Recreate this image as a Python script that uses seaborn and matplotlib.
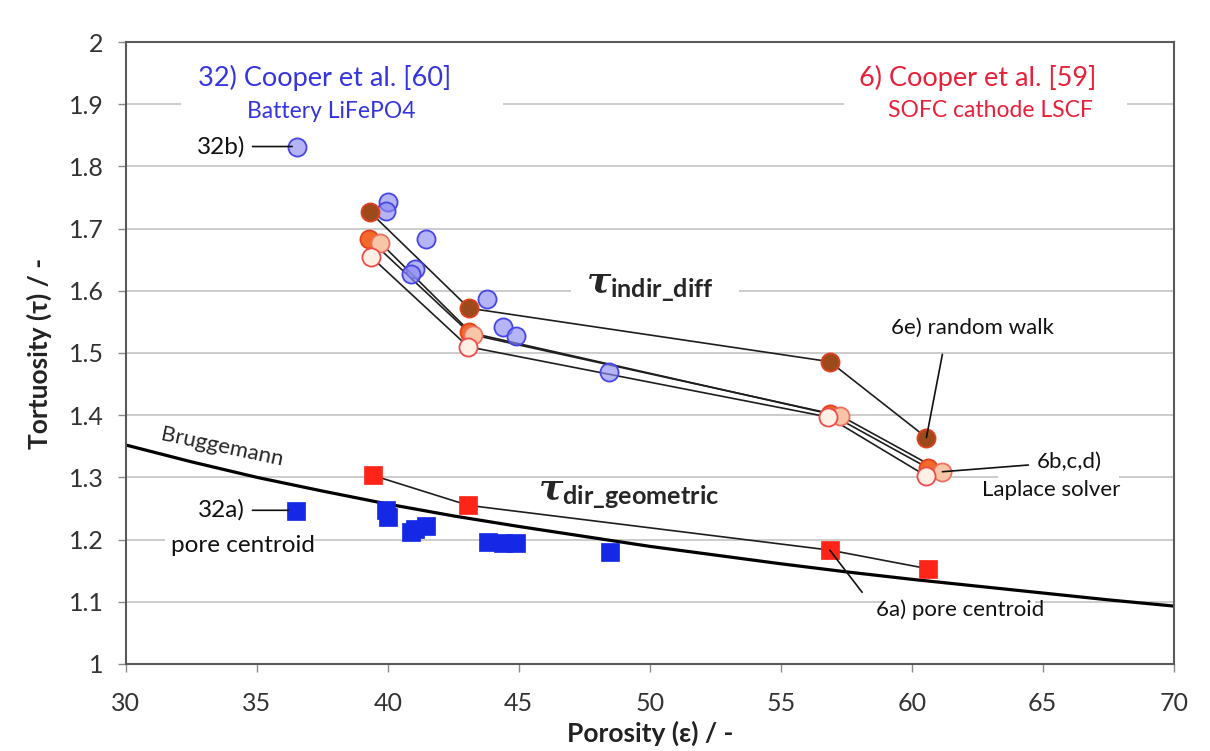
import numpy as np
import pandas as pd
import seaborn as sns
import matplotlib.pyplot as plt
from matplotlib.patches import Rectangle

# ---------------- data ----------------
x_ticks = [30, 35, 40, 45, 50, 55, 60, 65, 70]
y_ticks = [1.0, 1.1, 1.2, 1.3, 1.4, 1.5, 1.6, 1.7, 1.8, 1.9, 2.0]
y_tick_labels = ["1", "1.1", "1.2", "1.3", "1.4", "1.5", "1.6", "1.7", "1.8", "1.9", "2"]

# 32) Cooper et al. [60] - battery LiFePO4
bat_eps_indir = [36.53, 40.01, 39.92, 41.44, 41.03, 40.88, 43.80, 44.40, 44.91, 48.45]
bat_tau_indir = [1.832, 1.743, 1.729, 1.683, 1.635, 1.627, 1.587, 1.542, 1.527, 1.469]
bat_eps_dir = [36.50, 39.92, 40.01, 40.88, 41.03, 41.44, 43.83, 44.40, 44.91, 48.47]
bat_tau_dir = [1.246, 1.247, 1.236, 1.212, 1.217, 1.222, 1.196, 1.195, 1.194, 1.180]

# 6) Cooper et al. [59] - SOFC cathode LSCF
sofc_eps_6e = [39.31, 43.10, 56.87, 60.56]
sofc_tau_6e = [1.727, 1.572, 1.486, 1.364]
sofc_eps_6b = [39.29, 43.10, 56.87, 60.62]
sofc_tau_6b = [1.683, 1.533, 1.402, 1.315]
sofc_eps_6c = [39.72, 43.26, 57.28, 61.17]
sofc_tau_6c = [1.677, 1.529, 1.399, 1.309]
sofc_eps_6d = [39.35, 43.07, 56.81, 60.56]
sofc_tau_6d = [1.655, 1.510, 1.397, 1.302]
sofc_eps_6a = [39.44, 43.07, 56.87, 60.62]
sofc_tau_6a = [1.303, 1.255, 1.183, 1.153]

# Bruggemann curve
brug_eps = [30, 32.5, 35, 37.5, 40, 42.5, 45, 47.5, 50, 52.5, 55, 57.5, 60, 62.5, 65, 67.5, 70]
brug_tau = [1.352, 1.325, 1.300, 1.278, 1.257, 1.238, 1.221, 1.205, 1.189, 1.175,
            1.161, 1.148, 1.136, 1.125, 1.114, 1.103, 1.093]

# ---------------- styling ----------------
sns.set_theme(style="white")
plt.rcParams["font.family"] = ["Lato", "DejaVu Sans"]
plt.rcParams["mathtext.fontset"] = "custom"
plt.rcParams["mathtext.rm"] = "Lato"
plt.rcParams["mathtext.bf"] = "Lato:bold"
plt.rcParams["mathtext.it"] = "DejaVu Serif:italic:bold"
plt.rcParams["mathtext.fallback"] = "cm"

BLUE_TXT = "#3535e0"
RED_TXT = "#e8203a"

fig = plt.figure(figsize=(12.1, 7.51), dpi=100)
ax = fig.add_axes([0.104, 0.116, 0.866, 0.828])

ax.set_xlim(30, 70)
ax.set_ylim(1, 2)
ax.set_xticks(x_ticks)
ax.set_xticklabels([str(t) for t in x_ticks])
ax.set_yticks(y_ticks)
ax.set_yticklabels(y_tick_labels)
ax.tick_params(axis="both", which="both", direction="out", length=6, width=1,
               color="#8a8a8a", labelsize=18, labelcolor="#333333",
               bottom=True, left=True, top=False, right=False)
ax.tick_params(axis="x", pad=14)
ax.tick_params(axis="y", pad=10)
ax.yaxis.grid(True, color="#c4c4c4", lw=1.2, zorder=0)
ax.xaxis.grid(False)
ax.set_axisbelow(True)
for s in ax.spines.values():
    s.set_color("#5a5a5a")
    s.set_linewidth(1.5)

# white patches interrupting gridlines behind labels
for (x0, x1, y0, y1) in [(32.1, 44.4, 1.865, 1.975), (57.4, 68.2, 1.865, 1.975),
                         (47.0, 53.4, 1.575, 1.64), (45.5, 53.4, 1.255, 1.295),
                         (63.3, 67.9, 1.265, 1.345), (31.5, 37.2, 1.17, 1.21),
                         (59.0, 64.7, 1.07, 1.105)]:
    ax.add_patch(Rectangle((x0, y0), x1 - x0, y1 - y0, facecolor="white",
                           edgecolor="none", zorder=0.8))

# Bruggemann curve
sns.lineplot(x=brug_eps, y=brug_tau, ax=ax, color="black", lw=2.3,
             sort=False, estimator=None, zorder=2)

# connecting lines for the SOFC series
for ex, ty in [(sofc_eps_6e, sofc_tau_6e), (sofc_eps_6b, sofc_tau_6b),
               (sofc_eps_6c, sofc_tau_6c), (sofc_eps_6d, sofc_tau_6d),
               (sofc_eps_6a, sofc_tau_6a)]:
    sns.lineplot(x=ex, y=ty, ax=ax, color="#1e1e1e", lw=1.2,
                 sort=False, estimator=None, zorder=2.5)

# battery markers
sns.scatterplot(x=bat_eps_dir, y=bat_tau_dir, ax=ax, marker="s", s=150,
                color="#1428e6", edgecolor="#1428e6", linewidth=0.5, zorder=3)
sns.scatterplot(x=bat_eps_indir, y=bat_tau_indir, ax=ax, marker="o", s=170,
                facecolor=(0.55, 0.55, 0.95, 0.65), edgecolor="#4646e6",
                linewidth=1.3, zorder=3)

# SOFC markers
sns.scatterplot(x=sofc_eps_6a, y=sofc_tau_6a, ax=ax, marker="s", s=150,
                color="#ff2418", edgecolor="#ff2418", linewidth=0.5, zorder=3)
sns.scatterplot(x=sofc_eps_6e, y=sofc_tau_6e, ax=ax, marker="o", s=170,
                color="#9c4a1c", edgecolor="#e0401c", linewidth=1.3, zorder=3)
sns.scatterplot(x=sofc_eps_6b, y=sofc_tau_6b, ax=ax, marker="o", s=170,
                color="#f06a2a", edgecolor="#e8401e", linewidth=1.3, zorder=3.1)
sns.scatterplot(x=sofc_eps_6c, y=sofc_tau_6c, ax=ax, marker="o", s=170,
                color="#f8c6a6", edgecolor="#ee7060", linewidth=1.3, zorder=3.2)
sns.scatterplot(x=sofc_eps_6d, y=sofc_tau_6d, ax=ax, marker="o", s=170,
                color="#fff0e6", edgecolor="#f04a4a", linewidth=1.3, zorder=3.3)

# ---------------- texts ----------------
ax.text(37.6, 1.942, "32) Cooper et al. [60]", color=BLUE_TXT, fontsize=19.5,
        ha="center", va="center", zorder=4)
ax.text(37.86, 1.888, "Battery LiFePO4", color=BLUE_TXT, fontsize=16.5,
        ha="center", va="center", zorder=4)
ax.text(62.5, 1.942, "6) Cooper et al. [59]", color=RED_TXT, fontsize=19.5,
        ha="center", va="center", zorder=4)
ax.text(63.0, 1.89, "SOFC cathode LSCF", color=RED_TXT, fontsize=16.5,
        ha="center", va="center", zorder=4)

ax.text(50.0, 1.605, r"$\tau_{\mathbf{indir\_diff}}$", fontsize=26,
        ha="center", va="center", zorder=4)
ax.text(49.2, 1.272, r"$\tau_{\mathbf{dir\_geometric}}$", fontsize=26,
        ha="center", va="center", zorder=4)

ax.text(33.66, 1.349, "Bruggemann", fontsize=16, rotation=-12,
        ha="center", va="center", rotation_mode="anchor", zorder=4)

# annotations with leader lines
ann = dict(fontsize=16, color="#111111", zorder=4)
ann_big = dict(fontsize=17.5, color="#111111", zorder=4)
ax.annotate("32b)", xy=(36.35, 1.832), xytext=(34.55, 1.832), ha="right", va="center",
            arrowprops=dict(arrowstyle="-", color="#111111", lw=1.2,
                            shrinkA=3, shrinkB=0), **ann_big)
ax.annotate("32a)", xy=(36.2, 1.247), xytext=(34.55, 1.247), ha="right", va="center",
            arrowprops=dict(arrowstyle="-", color="#111111", lw=1.2,
                            shrinkA=3, shrinkB=0), **ann_big)
ax.text(34.47, 1.19, "pore centroid", ha="center", va="center", **ann_big)

ax.annotate("6e) random walk", xy=(60.56, 1.364), xytext=(62.3, 1.541),
            ha="center", va="center",
            arrowprops=dict(arrowstyle="-", color="#111111", lw=1.2,
                            shrinkA=10, shrinkB=0, relpos=(0.35, 0.5)), **ann)
ax.annotate("6b,c,d)", xy=(61.17, 1.309), xytext=(66.03, 1.325),
            ha="center", va="center",
            arrowprops=dict(arrowstyle="-", color="#111111", lw=1.2,
                            shrinkA=4, shrinkB=0), **ann)
ax.text(65.34, 1.28, "Laplace solver", ha="center", va="center", **ann)
ax.annotate("6a) pore centroid", xy=(56.87, 1.183), xytext=(61.83, 1.087),
            ha="center", va="center",
            arrowprops=dict(arrowstyle="-", color="#111111", lw=1.2,
                            shrinkA=12, shrinkB=0,
                            relpos=(0.0, 0.5)), **ann)

ax.set_xlabel("Porosity (ε) / -", fontsize=19, fontweight="bold",
              color="#222222", labelpad=4)
ax.set_ylabel("Tortuosity (τ) / -", fontsize=19, fontweight="bold",
              color="#222222", labelpad=12)

fig.savefig("out.png", dpi=100, facecolor="white")
